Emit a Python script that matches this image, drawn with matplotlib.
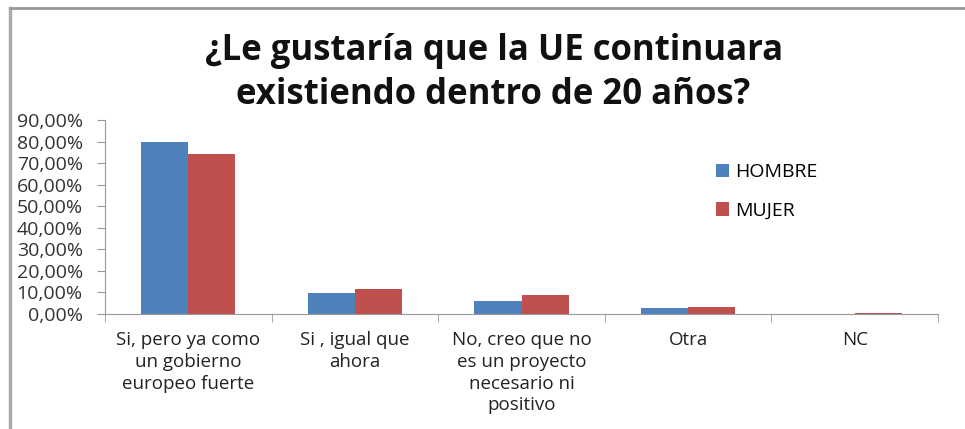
import numpy as np
import matplotlib
matplotlib.use("Agg")
import matplotlib.pyplot as plt
from matplotlib.lines import Line2D

# datos
categorias = ["Si, pero ya como\nun gobierno\neuropeo fuerte",
              "Si , igual que\nahora",
              "No, creo que no\nes un proyecto\nnecesario ni\npositivo",
              "Otra",
              "NC"]
hombre = [0.80, 0.096, 0.059, 0.029, 0.0]
mujer = [0.74, 0.115, 0.087, 0.034, 0.006]
yticks = np.arange(0, 0.91, 0.10)
ytick_labels = ["%.2f%%" % (v * 100) for v in yticks]
ytick_labels = [s.replace(".", ",") for s in ytick_labels]

azul = "#4F81BD"
rojo = "#C0504D"

plt.rcParams['font.family'] = ['Open Sans', 'DejaVu Sans']

fig = plt.figure(figsize=(9.65, 4.29), dpi=100)
ax = fig.add_axes([105/965, 1 - 314/429, (938-105)/965, (314-120)/429])

x = np.arange(len(categorias))
w = 0.283
ax.bar(x - w/2, hombre, w, color=azul, label="HOMBRE")
ax.bar(x + w/2, mujer, w, color=rojo, label="MUJER")

ax.set_xlim(-0.5, len(categorias) - 0.5)
ax.set_ylim(0, 0.9)
ax.set_yticks(yticks)
ax.set_yticklabels(ytick_labels, fontsize=14, color="#333333")

ax.set_xticks(x)
ax.set_xticklabels(categorias, fontsize=13.5, color="#222222", linespacing=1.28)
ax.tick_params(axis='x', length=0, pad=12)
ax.set_xticks(np.arange(-0.5, len(categorias)), minor=True)
ax.tick_params(axis='x', which='minor', length=6, color="#999999", direction='out')
ax.tick_params(axis='y', length=6, color="#999999", direction='out', pad=10)

for s in ['top', 'right']:
    ax.spines[s].set_visible(False)
for s in ['left', 'bottom']:
    ax.spines[s].set_color("#999999")

ax.legend(loc='upper left', bbox_to_anchor=(0.712, 0.866), frameon=False,
          handlelength=0.7, handleheight=0.7, handletextpad=0.3,
          labelspacing=1.05, fontsize=14)

fig.text(0.512, 1 - 60/429, "¿Le gustaría que la UE continuara", ha='center',
         va='baseline', fontsize=25, fontweight='bold', color="#111111")
fig.text(0.511, 1 - 104/429, "existiendo dentro de 20 años?", ha='center',
         va='baseline', fontsize=25, fontweight='bold', color="#111111")

# marco del grafico
fig.add_artist(Line2D([10/965, 10/965], [0, 1 - 8/429], transform=fig.transFigure,
                      color="#aaaaaa", lw=2.5))
fig.add_artist(Line2D([10/965, 1], [1 - 8/429, 1 - 8/429], transform=fig.transFigure,
                      color="#999999", lw=2))

fig.savefig("out.png", dpi=100)
